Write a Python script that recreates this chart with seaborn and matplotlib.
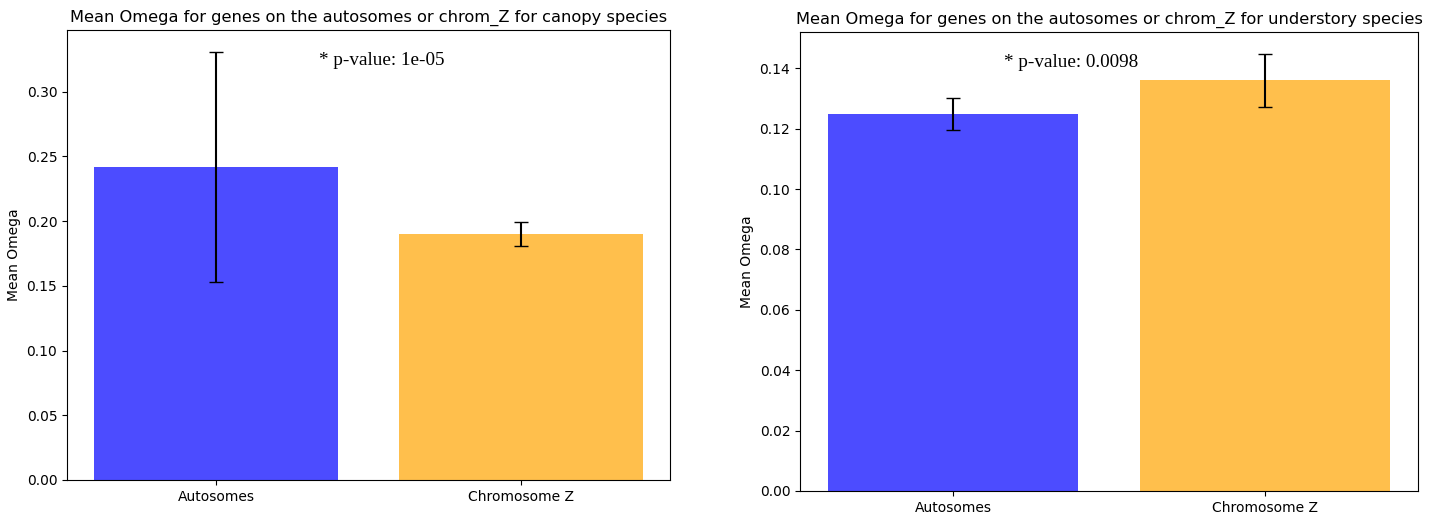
import matplotlib
matplotlib.use("Agg")
import matplotlib.pyplot as plt
import seaborn as sns
import pandas as pd

# Mean omega per chromosome class, with error bar half-widths
categories = ["Autosomes", "Chromosome Z"]
bar_colors = ["blue", "orange"]

canopy_means = [0.242, 0.190]
canopy_errs = [0.089, 0.0095]
canopy_pvalue = "1e-05"

understory_means = [0.125, 0.136]
understory_errs = [0.0053, 0.0088]
understory_pvalue = "0.0098"

fig = plt.figure(figsize=(14.47, 5.17), dpi=100)
ax_left = fig.add_axes([0.0463, 0.0716, 0.4167, 0.870])
ax_right = fig.add_axes([0.5529, 0.0503, 0.4271, 0.888])


def draw_panel(ax, means, errs, pvalue, group, text_x):
    df = pd.DataFrame({"chrom": categories, "omega": means})
    sns.barplot(data=df, x="chrom", y="omega", hue="chrom",
                palette=bar_colors, saturation=1, alpha=0.7,
                width=0.8, errorbar=None, linewidth=0,
                legend=False, ax=ax)
    ax.errorbar(x=range(len(means)), y=means, yerr=errs, fmt="none",
                ecolor="black", capsize=5, elinewidth=1.5)
    top = max(m + e for m, e in zip(means, errs))
    ax.text(text_x, top * 0.98, f"* p-value: {pvalue}",
            ha="center", va="center", fontsize=13.8,
            family="Liberation Serif")
    ax.set_title(f"Mean Omega for genes on the autosomes or chrom_Z for {group} species",
                 fontsize=11.7)
    ax.set_xlabel("")
    ax.set_ylabel("Mean Omega")


draw_panel(ax_left, canopy_means, canopy_errs, canopy_pvalue, "canopy", 0.543)
draw_panel(ax_right, understory_means, understory_errs, understory_pvalue,
           "understory", 0.378)

fig.savefig("out.png", dpi=100)
